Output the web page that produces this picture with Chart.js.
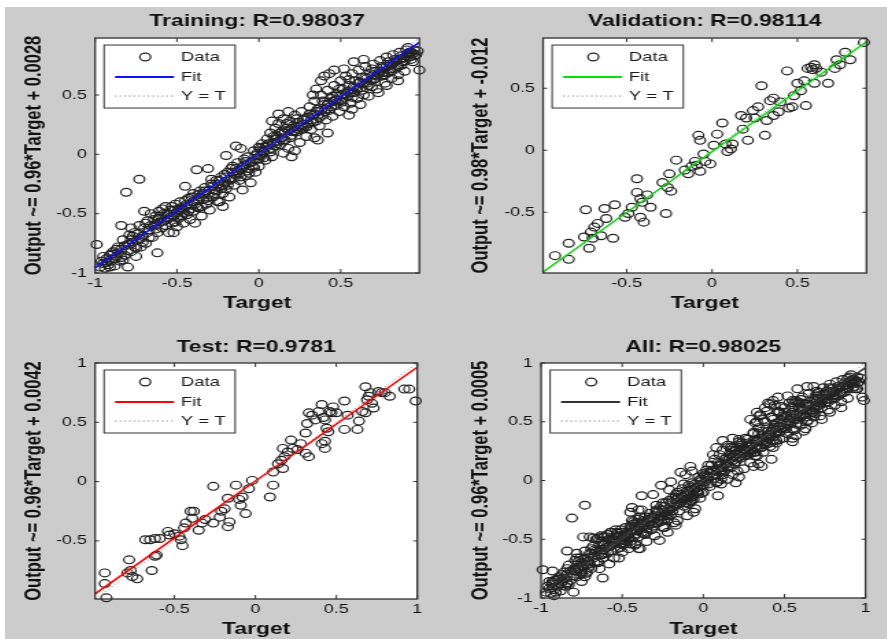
<!DOCTYPE html>
<html>
<head>
<meta charset="utf-8">
<script src="https://cdn.jsdelivr.net/npm/chart.js@4.4.0/dist/chart.umd.min.js"></script>
<style>
html,body{margin:0;padding:0;background:#ffffff;width:887px;height:639px;overflow:hidden;}
#bg{position:absolute;left:5px;top:7px;width:882px;height:632px;background:#cccccc;}
canvas{position:absolute;}
</style>
</head>
<body>
<div id="bg"></div>
<canvas id="c0"></canvas>
<canvas id="c1"></canvas>
<canvas id="c2"></canvas>
<canvas id="c3"></canvas>
<script>
// ---------------- data ----------------
const panelTitles = ['Training: R=0.98037', 'Validation: R=0.98114', 'Test: R=0.9781', 'All: R=0.98025'];
const yAxisTitles = ['Output ~= 0.96*Target + 0.0028', 'Output ~= 0.98*Target + -0.012', 'Output ~= 0.96*Target + 0.0042', 'Output ~= 0.96*Target + 0.0005'];
const xAxisTitle = 'Target';
const legendLabels = ['Data', 'Fit', 'Y = T'];
const fitSlopes = [0.96, 0.98, 0.96, 0.96];
const fitIntercepts = [0.0028, -0.012, 0.0042, 0.0005];
const fitColors = ['#1010ff', '#00e000', '#ff0000', '#333333'];
const axisLimits = [[-1, 0.98], [-0.99, 0.905], [-0.99, 1], [-1, 1]];
const tickValues = [-1, -0.5, 0, 0.5, 1];

// [target, output]
const trainingPoints = [
[-0.97,-0.95],[-0.95,-0.92],[-0.94,-0.96],[-0.93,-0.88],[-0.92,-0.93],[-0.91,-0.85],[-0.90,-0.90],[-0.99,-0.76],
[-0.89,-0.82],[-0.88,-0.94],[-0.87,-0.86],[-0.86,-0.78],[-0.85,-0.90],[-0.84,-0.80],[-0.83,-0.72],[-0.82,-0.85],[-0.81,-0.32],[-0.80,-0.76],
[-0.79,-0.68],[-0.78,-0.62],[-0.78,-0.82],[-0.77,-0.74],[-0.76,-0.66],[-0.75,-0.86],[-0.74,-0.72],[-0.73,-0.21],[-0.73,-0.60],[-0.72,-0.78],[-0.71,-0.69],[-0.70,-0.48],
[-0.69,-0.75],[-0.68,-0.56],[-0.67,-0.64],[-0.66,-0.50],[-0.65,-0.70],[-0.64,-0.60],[-0.63,-0.52],[-0.62,-0.83],[-0.62,-0.66],[-0.61,-0.48],[-0.60,-0.57],
[-0.59,-0.62],[-0.58,-0.50],[-0.57,-0.44],[-0.56,-0.55],[-0.55,-0.66],[-0.54,-0.47],[-0.53,-0.58],[-0.52,-0.52],[-0.51,-0.42],[-0.50,-0.61],[-0.50,-0.49],
[-0.49,-0.54],[-0.48,-0.40],[-0.47,-0.47],[-0.46,-0.58],[-0.45,-0.44],[-0.44,-0.51],[-0.43,-0.37],[-0.42,-0.55],[-0.41,-0.43],[-0.40,-0.48],[-0.40,-0.33],
[-0.39,-0.58],[-0.38,-0.13],[-0.38,-0.39],[-0.37,-0.45],[-0.36,-0.31],[-0.35,-0.52],[-0.34,-0.38],[-0.33,-0.28],[-0.32,-0.42],[-0.31,-0.12],[-0.31,-0.34],[-0.30,-0.47],
[-0.29,-0.25],[-0.28,-0.36],[-0.27,-0.30],[-0.26,-0.22],[-0.25,-0.40],[-0.24,-0.27],[-0.23,-0.19],[-0.22,-0.33],[-0.21,-0.24],[-0.20,-0.01],[-0.20,-0.29],
[-0.19,-0.15],[-0.18,-0.36],[-0.17,-0.21],[-0.16,-0.10],[-0.15,-0.26],[-0.14,-0.17],[-0.13,-0.07],[-0.12,-0.22],[-0.11,0.05],[-0.11,-0.13],[-0.10,-0.30],
[-0.09,-0.09],[-0.08,-0.18],[-0.07,-0.02],[-0.06,-0.12],[-0.05,-0.24],[-0.04,-0.06],[-0.03,0.03],[-0.02,-0.15],[-0.01,-0.04],[0.00,0.06],[0.00,-0.10],
[0.01,-0.01],[0.02,0.09],[0.03,0.02],[0.04,-0.05],[0.05,0.13],[0.06,0.04],[0.07,0.18],[0.08,-0.02],[0.09,0.10],[0.10,0.22],[0.10,0.07],
[0.11,0.15],[0.12,0.26],[0.13,0.08],[0.14,0.19],[0.15,0.01],[0.15,0.30],[0.16,0.12],[0.17,0.22],[0.18,0.05],[0.19,0.28],[0.20,0.16],[0.20,-0.02],
[0.21,0.24],[0.22,0.03],[0.22,0.33],[0.23,0.19],[0.24,0.27],[0.25,0.10],[0.26,0.36],[0.27,0.22],[0.28,0.30],[0.29,0.15],[0.30,0.26],
[0.31,0.40],[0.32,0.21],[0.33,0.33],[0.34,0.14],[0.34,0.45],[0.35,0.28],[0.36,0.38],[0.37,0.24],[0.38,0.50],[0.39,0.33],[0.40,0.42],
[0.41,0.29],[0.42,0.54],[0.43,0.37],[0.44,0.47],[0.45,0.32],[0.46,0.58],[0.47,0.41],[0.48,0.51],[0.49,0.36],[0.50,0.62],[0.50,0.45],
[0.51,0.55],[0.52,0.40],[0.53,0.66],[0.54,0.49],[0.55,0.58],[0.56,0.43],[0.57,0.38],[0.57,0.68],[0.58,0.52],[0.59,0.62],[0.60,0.47],
[0.61,0.71],[0.62,0.56],[0.63,0.65],[0.64,0.50],[0.65,0.74],[0.66,0.60],[0.67,0.49],[0.68,0.68],[0.69,0.57],[0.70,0.76],[0.70,0.63],
[0.71,0.70],[0.72,0.55],[0.73,0.52],[0.74,0.79],[0.75,0.66],[0.76,0.73],[0.77,0.60],[0.78,0.82],[0.79,0.69],[0.80,0.76],
[0.81,0.64],[0.82,0.84],[0.83,0.72],[0.84,0.79],[0.85,0.67],[0.86,0.86],[0.87,0.75],[0.88,0.81],[0.89,0.70],[0.90,0.88],
[0.91,0.90],[0.92,0.82],[0.93,0.86],[0.94,0.78],[0.95,0.88],[0.96,0.84],[0.97,0.87],[0.98,0.71],
[-0.96,-0.90],[-0.93,-0.91],[-0.90,-0.84],[-0.88,-0.88],[-0.86,-0.83],[-0.84,-0.87],[-0.82,-0.77],[-0.80,-0.81],[-0.78,-0.72],[-0.76,-0.78],
[-0.74,-0.67],[-0.72,-0.71],[-0.70,-0.62],[-0.68,-0.66],[-0.66,-0.60],[-0.64,-0.55],[-0.62,-0.59],[-0.60,-0.52],[-0.58,-0.56],[-0.56,-0.50],
[-0.54,-0.53],[-0.52,-0.47],[-0.50,-0.53],[-0.48,-0.45],[-0.46,-0.49],[-0.44,-0.42],[-0.42,-0.46],[-0.40,-0.40],[-0.38,-0.44],[-0.36,-0.36],
[-0.34,-0.33],[-0.32,-0.37],[-0.30,-0.30],[-0.28,-0.27],[-0.26,-0.31],[-0.24,-0.22],[-0.22,-0.26],[-0.20,-0.19],[-0.18,-0.22],[-0.16,-0.15],
[-0.14,-0.12],[-0.12,-0.16],[-0.10,-0.11],[-0.08,-0.06],[-0.06,-0.16],[-0.04,-0.10],[-0.02,-0.01],[0.00,-0.04],[0.02,0.03],[0.04,0.06],
[0.06,0.09],[0.08,0.05],[0.10,0.13],[0.12,0.11],[0.14,0.14],[0.16,0.18],[0.18,0.20],[0.20,0.22],[0.22,0.20],[0.24,0.23],
[0.26,0.25],[0.28,0.24],[0.30,0.31],[0.32,0.29],[0.34,0.34],[0.36,0.33],[0.38,0.37],[0.40,0.36],[0.42,0.42],[0.44,0.40],
[0.46,0.45],[0.48,0.44],[0.50,0.50],[0.52,0.48],[0.54,0.53],[0.56,0.52],[0.58,0.57],[0.60,0.55],[0.62,0.61],[0.64,0.60],
[0.66,0.64],[0.68,0.62],[0.70,0.67],[0.72,0.66],[0.74,0.70],[0.76,0.69],[0.78,0.74],[0.80,0.72],[0.82,0.77],[0.84,0.75],
[0.86,0.80],[0.88,0.78],[0.90,0.83],[0.92,0.86],[0.94,0.85],
[0.38,0.62],[0.40,0.66],[0.43,0.68],[0.35,0.55],[0.46,0.71],[0.33,0.50],[0.42,0.18],[0.36,0.12],[0.12,0.34],[0.18,0.36],
[0.08,0.28],[-0.22,-0.44],[-0.24,-0.40],[-0.45,-0.27],[-0.14,0.07],[-0.52,-0.66],[-0.80,-0.95],[-0.84,-0.60],[0.58,0.78],[0.64,0.80],
[0.52,0.72],[0.62,0.42],[0.55,0.33],[0.78,0.58],[0.85,0.62],
[-0.95,-0.86],[-0.91,-0.95],[-0.87,-0.80],[-0.83,-0.89],[-0.79,-0.76],[-0.77,-0.69],[-0.75,-0.79],[-0.71,-0.74],[-0.69,-0.58],[-0.67,-0.70],
[-0.63,-0.63],[-0.61,-0.54],[-0.59,-0.46],[-0.57,-0.60],[-0.55,-0.51],[-0.53,-0.44],[-0.51,-0.57],[-0.49,-0.47],[-0.47,-0.52],[-0.45,-0.39],
[-0.43,-0.48],[-0.41,-0.36],[-0.39,-0.42],[-0.37,-0.34],[-0.35,-0.44],[-0.33,-0.31],[-0.31,-0.39],[-0.29,-0.21],[-0.27,-0.33],[-0.25,-0.25],
[-0.23,-0.29],[-0.21,-0.17],[-0.19,-0.26],[-0.17,-0.12],[-0.15,-0.20],[-0.13,-0.14],[-0.11,-0.19],[-0.09,-0.04],[-0.07,-0.14],[-0.05,-0.07],
[-0.03,-0.11],[-0.01,0.01],[0.01,0.05],[0.03,-0.03],[0.05,0.08],[0.07,0.02],[0.09,0.15],[0.11,0.09],[0.13,0.18],[0.15,0.12],
[0.17,0.26],[0.19,0.14],[0.21,0.19],[0.23,0.30],[0.25,0.21],[0.27,0.29],[0.29,0.23],[0.31,0.34],[0.33,0.27],[0.35,0.36],
[0.37,0.31],[0.39,0.45],[0.41,0.38],[0.43,0.44],[0.45,0.49],[0.47,0.46],[0.49,0.55],[0.51,0.44],[0.53,0.51],[0.55,0.63],
[0.57,0.48],[0.59,0.56],[0.61,0.60],[0.63,0.54],[0.65,0.65],[0.67,0.58],[0.69,0.72],[0.71,0.64],[0.73,0.68],[0.75,0.74],
[0.77,0.67],[0.79,0.78],[0.81,0.70],[0.83,0.80],[0.85,0.74],[0.87,0.83],[0.89,0.79],[0.91,0.85],[0.93,0.80],[0.95,0.83]
];

const validationPoints = [
[-0.92,-0.85],[-0.84,-0.88],[-0.84,-0.75],[-0.72,-0.79],[-0.75,-0.70],[-0.71,-0.66],[-0.69,-0.62],[-0.67,-0.59],[-0.70,-0.71],[-0.65,-0.69],
[-0.62,-0.55],[-0.74,-0.48],[-0.63,-0.47],[-0.57,-0.44],[-0.58,-0.71],[-0.51,-0.54],[-0.49,-0.51],[-0.47,-0.46],[-0.44,-0.23],[-0.44,-0.34],
[-0.42,-0.54],[-0.40,-0.58],[-0.41,-0.42],[-0.38,-0.36],[-0.36,-0.46],[-0.42,-0.39],[-0.27,-0.51],[-0.29,-0.26],[-0.26,-0.30],[-0.24,-0.33],
[-0.21,-0.08],[-0.25,-0.19],[-0.16,-0.16],[-0.14,-0.19],[-0.12,-0.13],[-0.10,-0.09],[-0.09,-0.12],[-0.07,-0.17],[-0.05,-0.03],[-0.08,0.12],
[-0.07,0.08],[-0.04,-0.09],[-0.01,-0.11],[0.01,0.04],[0.03,0.13],[0.06,0.22],[0.08,0.05],[0.09,-0.01],[0.11,0.01],[0.12,0.05],
[0.17,0.28],[0.18,0.17],[0.20,0.26],[0.21,0.08],[0.24,0.32],[0.27,0.35],[0.29,0.52],[0.25,0.26],[0.31,0.12],[0.32,0.24],
[0.34,0.40],[0.36,0.42],[0.36,0.28],[0.39,0.31],[0.40,0.39],[0.44,0.64],[0.45,0.34],[0.47,0.35],[0.48,0.44],[0.50,0.54],
[0.52,0.48],[0.54,0.56],[0.55,0.36],[0.56,0.66],[0.58,0.67],[0.59,0.65],[0.60,0.69],[0.61,0.66],[0.60,0.54],[0.64,0.63],
[0.68,0.54],[0.72,0.66],[0.73,0.73],[0.75,0.69],[0.78,0.79],[0.81,0.73],[0.89,0.87]
];

const testPoints = [
[-0.93,-0.77],[-0.93,-0.86],[-0.92,-0.98],[-0.79,-0.77],[-0.78,-0.66],[-0.77,-0.75],[-0.76,-0.80],[-0.73,-0.82],[-0.64,-0.75],[-0.62,-0.63],
[-0.61,-0.62],[-0.68,-0.49],[-0.65,-0.49],[-0.62,-0.48],[-0.59,-0.48],[-0.54,-0.42],[-0.53,-0.45],[-0.50,-0.44],[-0.47,-0.46],[-0.45,-0.54],
[-0.46,-0.49],[-0.44,-0.39],[-0.43,-0.35],[-0.40,-0.25],[-0.38,-0.25],[-0.39,-0.31],[-0.35,-0.41],[-0.33,-0.35],[-0.31,-0.32],[-0.26,-0.04],
[-0.26,-0.35],[-0.22,-0.30],[-0.21,-0.25],[-0.19,-0.23],[-0.17,-0.38],[-0.16,-0.34],[-0.17,-0.14],[-0.12,-0.03],[-0.10,-0.15],[-0.09,-0.20],
[-0.08,-0.13],[-0.06,-0.27],[-0.02,0.01],[-0.04,-0.06],[0.09,-0.13],[0.11,-0.03],[0.11,0.08],[0.14,0.15],[0.16,0.18],[0.17,0.28],
[0.20,0.25],[0.22,0.35],[0.23,0.28],[0.26,0.27],[0.31,0.24],[0.33,0.21],[0.17,0.11],[0.18,0.21],[0.28,0.32],[0.31,0.41],
[0.32,0.49],[0.33,0.58],[0.35,0.56],[0.37,0.52],[0.39,0.59],[0.41,0.65],[0.42,0.54],[0.43,0.52],[0.44,0.45],[0.45,0.42],
[0.46,0.59],[0.47,0.58],[0.48,0.63],[0.50,0.58],[0.41,0.32],[0.43,0.34],[0.43,0.28],[0.55,0.68],[0.55,0.44],[0.57,0.56],
[0.63,0.44],[0.64,0.51],[0.66,0.59],[0.68,0.80],[0.69,0.69],[0.70,0.72],[0.71,0.75],[0.73,0.62],[0.76,0.76],[0.78,0.75],
[0.80,0.75],[0.83,0.72],[0.68,0.58],[0.72,0.66],[0.92,0.78],[0.95,0.78],[0.99,0.68]
];

// "All" is the union of the three subsets
const allPoints = trainingPoints.concat(validationPoints, testPoints);
const panelPoints = [trainingPoints, validationPoints, testPoints, allPoints];

// ---------------- layout (not data) ----------------
const S = 1.37; // horizontal stretch of the original figure
const FONT = '"Liberation Sans", Arial, sans-serif';
const panelLayout = [
  {left: 5,   top: 7,   w: 318, h: 313, yAxisW: 65.69, padRight: 15.81, xAxisH: 47, tPadTop: 4,  tPadBot: 7,    yTitlePad: 11.6, xTitlePad: 7},
  {left: 445, top: 7,   w: 323, h: 313, yAxisW: 71.53, padRight: 15.7,  xAxisH: 47, tPadTop: 4,  tPadBot: 7,    yTitlePad: 16.4, xTitlePad: 7},
  {left: 5,   top: 320, w: 318, h: 319, yAxisW: 65.69, padRight: 17.3,  xAxisH: 40, tPadTop: 17, tPadBot: 5.96, yTitlePad: 11.6, xTitlePad: 0},
  {left: 445, top: 320, w: 323, h: 319, yAxisW: 70.07, padRight: 16.4,  xAxisH: 41, tPadTop: 17, tPadBot: 5.96, yTitlePad: 16.4, xTitlePad: 0}
];

const matlabFrame = {
  id: 'matlabFrame',
  beforeDraw(chart) {
    const {ctx, chartArea: a} = chart;
    ctx.save();
    ctx.fillStyle = '#ffffff';
    ctx.fillRect(a.left, a.top, a.right - a.left, a.bottom - a.top);
    ctx.restore();
  },
  afterDraw(chart, args, opts) {
    const {ctx, chartArea: a} = chart;
    const xs = chart.scales.x, ys = chart.scales.y;
    ctx.save();
    // inward tick marks on all four sides
    ctx.strokeStyle = '#333333';
    ctx.lineWidth = 1;
    ctx.beginPath();
    xs.ticks.forEach(t => {
      const px = xs.getPixelForValue(t.value);
      ctx.moveTo(px, a.bottom); ctx.lineTo(px, a.bottom - 4);
      ctx.moveTo(px, a.top); ctx.lineTo(px, a.top + 4);
    });
    ys.ticks.forEach(t => {
      const py = ys.getPixelForValue(t.value);
      ctx.moveTo(a.left, py); ctx.lineTo(a.left + 3, py);
      ctx.moveTo(a.right, py); ctx.lineTo(a.right - 3, py);
    });
    ctx.stroke();
    // axes box
    ctx.lineWidth = 1.3;
    ctx.strokeStyle = '#303030';
    ctx.strokeRect(a.left, a.top, a.right - a.left, a.bottom - a.top);
    // legend box
    const lx = a.left + 9 / S, ly = a.top + 7, lw = 131 / S, lh = 63;
    ctx.fillStyle = '#ffffff';
    ctx.fillRect(lx, ly, lw, lh);
    ctx.lineWidth = 1;
    ctx.strokeStyle = '#333333';
    ctx.strokeRect(lx, ly, lw, lh);
    const rows = [ly + 12, ly + 32, ly + 51];
    // Data marker
    ctx.beginPath();
    ctx.arc(lx + 30, rows[0], 3.9, 0, Math.PI * 2);
    ctx.strokeStyle = '#222222';
    ctx.lineWidth = 1.2;
    ctx.stroke();
    // Fit sample
    ctx.beginPath();
    ctx.moveTo(lx + 8, rows[1]); ctx.lineTo(lx + 51, rows[1]);
    ctx.strokeStyle = opts.fitColor; ctx.lineWidth = 2;
    ctx.stroke();
    // Y = T sample
    ctx.beginPath();
    ctx.setLineDash([1.2, 2.2]);
    ctx.moveTo(lx + 8, rows[2]); ctx.lineTo(lx + 51, rows[2]);
    ctx.strokeStyle = '#8a8a8a'; ctx.lineWidth = 1;
    ctx.stroke();
    ctx.setLineDash([]);
    ctx.fillStyle = '#1a1a1a';
    ctx.font = '13.5px ' + FONT;
    ctx.textBaseline = 'middle';
    ctx.textAlign = 'left';
    legendLabels.forEach((t, i) => ctx.fillText(t, lx + 56, rows[i]));
    ctx.restore();
  }
};

function makeTicks(scale) {
  scale.ticks = tickValues
    .filter(v => v >= scale.min - 1e-9 && v <= scale.max + 1e-9)
    .map(v => ({value: v}));
}

panelTitles.forEach((title, i) => {
  const L = panelLayout[i];
  const cv = document.getElementById('c' + i);
  cv.width = L.w;
  cv.height = L.h;
  cv.style.left = L.left + 'px';
  cv.style.top = L.top + 'px';
  cv.style.width = (L.w * S) + 'px';
  cv.style.height = L.h + 'px';
  const lo = axisLimits[i][0], hi = axisLimits[i][1];
  const m = fitSlopes[i], b = fitIntercepts[i];
  new Chart(cv, {
    type: 'scatter',
    data: {
      datasets: [
        {label: legendLabels[2], data: [{x: lo, y: lo}, {x: hi, y: hi}], showLine: true,
         borderColor: '#8a8a8a', borderWidth: 1, borderDash: [1.2, 2.2], pointRadius: 0},
        {label: legendLabels[1], data: [{x: lo, y: m * lo + b}, {x: hi, y: m * hi + b}], showLine: true,
         borderColor: fitColors[i], borderWidth: 1.6, pointRadius: 0},
        {label: legendLabels[0], data: panelPoints[i].map(p => ({x: p[0], y: p[1]})),
         pointStyle: 'circle', pointRadius: 3.9, pointBorderWidth: 1.2,
         pointBorderColor: '#222222', pointBackgroundColor: 'rgba(0,0,0,0)', clip: false}
      ]
    },
    options: {
      responsive: false,
      animation: false,
      events: [],
      layout: {padding: {left: 0, right: L.padRight, top: 0, bottom: 0}},
      plugins: {
        legend: {display: false},
        tooltip: {enabled: false},
        title: {display: true, text: title, fullSize: false, color: '#111111',
                font: {family: FONT, size: 16.7, weight: 'bold', lineHeight: 1.2},
                padding: {top: L.tPadTop, bottom: L.tPadBot}},
        matlabFrame: {fitColor: fitColors[i]}
      },
      scales: {
        x: {
          type: 'linear', position: 'bottom', min: lo, max: hi,
          grid: {display: false, drawTicks: false}, border: {display: false},
          afterBuildTicks: makeTicks,
          afterFit: s => { s.height = L.xAxisH; },
          ticks: {callback: v => String(v), font: {family: FONT, size: 13}, color: '#111111',
                  padding: 3, maxRotation: 0, autoSkip: false},
          title: {display: true, text: xAxisTitle, color: '#111111',
                  font: {family: FONT, size: 16.7, weight: 'bold', lineHeight: 1.2},
                  padding: {top: 0, bottom: L.xTitlePad}}
        },
        y: {
          type: 'linear', position: 'left', min: lo, max: hi,
          grid: {display: false, drawTicks: false}, border: {display: false},
          afterBuildTicks: makeTicks,
          afterFit: s => { s.width = L.yAxisW; },
          ticks: {callback: v => String(v), font: {family: FONT, size: 13}, color: '#111111',
                  padding: 6, autoSkip: false},
          title: {display: true, text: yAxisTitles[i], color: '#111111',
                  font: {family: FONT, size: 16.5, weight: 'bold', lineHeight: 1.2},
                  padding: {top: L.yTitlePad, bottom: 0}}
        }
      }
    },
    plugins: [matlabFrame]
  });
});
</script>
</body>
</html>
